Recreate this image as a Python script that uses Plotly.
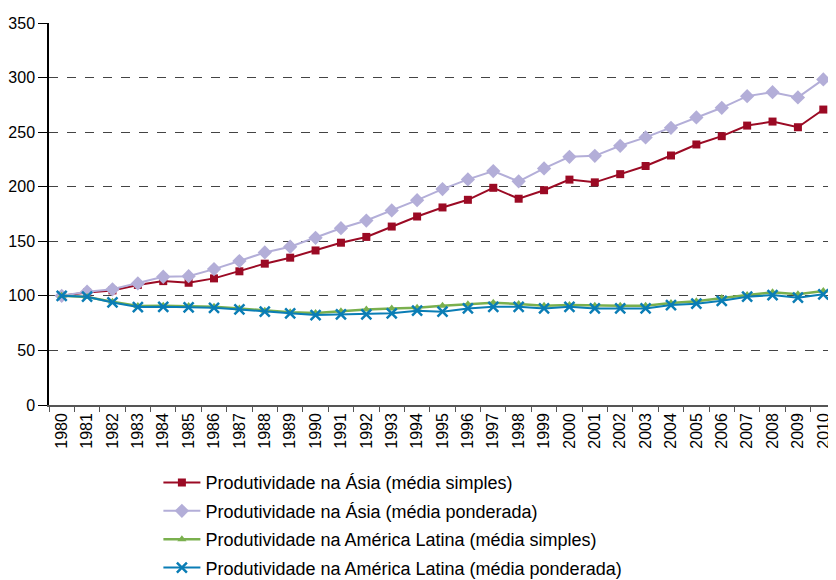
import plotly.graph_objects as go

years = [str(y) for y in range(1980, 2011)]

asia_simples = [100, 103, 105, 110, 113.5, 112, 116, 122.5, 129.5, 135, 141.6, 148.7, 154, 163.5, 172.7,
                181, 188, 199, 189, 196.8, 206.5, 204, 211.5, 219, 228.6, 238.7, 246.3, 256, 259.7, 254.5, 270.7]
asia_ponderada = [100, 103.8, 106, 111.4, 117.5, 118, 124.5, 131.9, 139.8, 145, 153.2, 162, 169, 178.3, 187.7,
                  197.8, 206.7, 214.3, 204.9, 216.8, 227.4, 228.3, 237.5, 245.2, 254, 263.5, 272.3, 283, 286.6, 281.8, 298.3]
al_simples = [100, 99, 94.6, 90.7, 91, 90.7, 90, 88.5, 86.4, 84.9, 84.3, 86, 87.6, 88.5, 89,
              91, 92.2, 93.7, 92.5, 91, 91.6, 91, 91, 91, 93.4, 95, 98, 100.7, 103.2, 101.4, 104.4]
al_ponderada = [100, 99.2, 94, 89.7, 90, 89.5, 89, 87.6, 85.5, 84, 82.4, 83, 83, 84, 86.4,
                85.5, 88.5, 90, 90, 88.5, 90, 88.5, 88.5, 88.5, 91.6, 92.8, 95.5, 99.2, 100.7, 98.3, 101.4]

names = [
    "Produtividade na Ásia (média simples)",
    "Produtividade na Ásia (média ponderada)",
    "Produtividade na América Latina (média simples)",
    "Produtividade na América Latina (média ponderada)",
]

fig = go.Figure()
fig.add_trace(go.Scatter(x=years, y=asia_simples, name=names[0], mode="lines+markers", legendgroup="a",
                         line=dict(color="#9b0a24", width=2),
                         marker=dict(symbol="square", size=8, color="#9b0a24")))
fig.add_trace(go.Scatter(x=years, y=asia_ponderada, name=names[1], mode="lines+markers", legendgroup="b",
                         line=dict(color="#b3aed8", width=2),
                         marker=dict(symbol="diamond", size=11, color="#b3aed8")))
fig.add_trace(go.Scatter(x=years, y=al_simples, name=names[2], mode="lines+markers", legendgroup="c",
                         line=dict(color="#7ab04e", width=2.5),
                         marker=dict(symbol="triangle-up", size=8, color="#7ab04e")))
fig.add_trace(go.Scatter(x=years, y=al_ponderada, name=names[3], mode="lines+markers", legendgroup="d",
                         line=dict(color="#0a7db5", width=2),
                         marker=dict(symbol="x-thin", size=10, line=dict(color="#0a7db5", width=2.5))))

fig.update_layout(
    width=828, height=572,
    margin=dict(l=41, r=0, t=15, b=175, autoexpand=False),
    paper_bgcolor="white", plot_bgcolor="white",
    font=dict(family="Liberation Sans, Arial, sans-serif", color="#000", size=16),
    showlegend=True,
    legend=dict(x=0.139, xanchor="left", y=-0.155, yanchor="top", itemwidth=37,
                font=dict(size=18), tracegroupgap=2, bgcolor="rgba(0,0,0,0)"),
)
fig.update_xaxes(type="category", range=[-0.5, 30.5], tickangle=-90, automargin=False,
                 ticks="outside", ticklen=5, tickson="boundaries", tickcolor="#555",
                 showline=True, linecolor="#555", linewidth=1.5, showgrid=False,
                 tickfont=dict(size=16))
fig.update_yaxes(range=[0, 350], dtick=50, ticks="outside", ticklen=9, tickcolor="#000",
                 automargin=False,
                 showline=True, linecolor="#000", linewidth=1.5,
                 showgrid=True, gridcolor="#444", griddash="dash", gridwidth=1,
                 zeroline=False, tickfont=dict(size=16))

fig.write_html("out.html")
